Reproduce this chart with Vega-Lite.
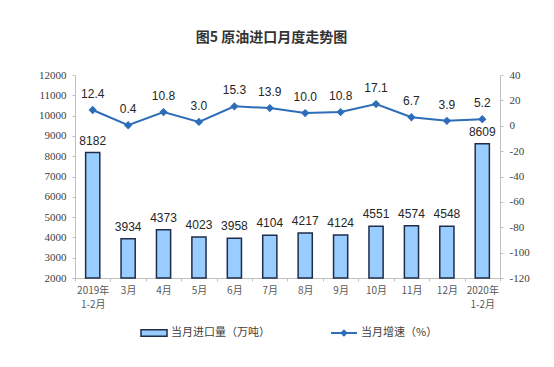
{
  "$schema": "https://vega.github.io/schema/vega-lite/v6.json",
  "width": 425,
  "height": 203,
  "autosize": {"type": "none"},
  "padding": {"left": 75, "top": 75, "right": 54, "bottom": 89},
  "background": "white",
  "title": {
    "text": "图5  原油进口月度走势图",
    "font": "Noto Sans CJK SC",
    "fontSize": 14,
    "fontWeight": "bold",
    "color": "#333333",
    "anchor": "middle",
    "dx": -16,
    "offset": 24
  },
  "data": {
    "values": [
      {"m": "2019年\n1-2月", "vol": 8182, "pct": 12.4},
      {"m": "3月", "vol": 3934, "pct": 0.4},
      {"m": "4月", "vol": 4373, "pct": 10.8},
      {"m": "5月", "vol": 4023, "pct": 3.0},
      {"m": "6月", "vol": 3958, "pct": 15.3},
      {"m": "7月", "vol": 4104, "pct": 13.9},
      {"m": "8月", "vol": 4217, "pct": 10.0},
      {"m": "9月", "vol": 4124, "pct": 10.8},
      {"m": "10月", "vol": 4551, "pct": 17.1},
      {"m": "11月", "vol": 4574, "pct": 6.7},
      {"m": "12月", "vol": 4548, "pct": 3.9},
      {"m": "2020年\n1-2月", "vol": 8609, "pct": 5.2}
    ]
  },
  "encoding": {
    "x": {
      "field": "m",
      "type": "nominal",
      "sort": null,
      "title": null,
      "scale": {"type": "band", "paddingInner": 0, "paddingOuter": 0},
      "axis": {
        "labelAngle": 0,
        "labelExpr": "split(datum.label, '\\n')",
        "labelFont": "Noto Sans CJK SC",
        "labelFontSize": 10,
        "labelColor": "#595959",
        "labelLineHeight": 14,
        "labelPadding": 4,
        "domainColor": "#BFBFBF",
        "tickColor": "#BFBFBF",
        "tickBand": "extent",
        "tickSize": 3,
        "grid": false
      }
    }
  },
  "layer": [
    {
      "mark": {"type": "bar", "width": {"band": 0.4}, "stroke": "#1F2D4A", "strokeWidth": 1.5},
      "encoding": {
        "y": {
          "field": "vol",
          "type": "quantitative",
          "title": null,
          "scale": {"domain": [2000, 12000], "zero": false, "nice": false},
          "axis": {
            "values": [2000, 3000, 4000, 5000, 6000, 7000, 8000, 9000, 10000, 11000, 12000],
            "labelExpr": "toString(datum.value)",
            "labelFont": "Liberation Serif",
            "labelFontSize": 11,
            "labelColor": "#404040",
            "domainColor": "#BFBFBF",
            "tickColor": "#BFBFBF",
            "tickSize": 3,
            "labelPadding": 6,
            "grid": false
          }
        },
        "y2": {"datum": 2000},
        "fill": {
          "datum": "当月进口量（万吨）",
          "type": "nominal",
          "scale": {"range": ["#99CCFF"]},
          "legend": {
            "orient": "none",
            "legendX": 65,
            "legendY": 244,
            "title": null,
            "symbolType": "M-1,-0.25H1V0.25H-1Z",
            "symbolSize": 676,
            "symbolStrokeColor": "#1F2D4A",
            "symbolStrokeWidth": 1.5,
            "labelFont": "Noto Sans CJK SC",
            "labelFontSize": 11,
            "labelColor": "#404040",
            "labelOffset": 3
          }
        }
      }
    },
    {
      "mark": {"type": "text", "baseline": "bottom", "dy": -5, "font": "Liberation Sans", "fontSize": 12, "color": "#262626"},
      "encoding": {
        "y": {"field": "vol", "type": "quantitative", "scale": {"domain": [2000, 12000], "zero": false, "nice": false}, "axis": null},
        "text": {"field": "vol", "type": "quantitative", "format": "d"}
      }
    },
    {
      "mark": {"type": "line", "strokeWidth": 2, "color": "#2E6DB8", "point": {"shape": "diamond", "size": 30, "filled": true, "color": "#2E6DB8"}},
      "encoding": {
        "y": {
          "field": "pct",
          "type": "quantitative",
          "title": null,
          "scale": {"domain": [-120, 40], "nice": false},
          "axis": {
            "orient": "right",
            "values": [-120, -100, -80, -60, -40, -20, 0, 20, 40],
            "labelExpr": "toString(datum.value)",
            "labelFont": "Liberation Serif",
            "labelFontSize": 11,
            "labelColor": "#404040",
            "domainColor": "#BFBFBF",
            "tickColor": "#BFBFBF",
            "tickSize": 3,
            "labelPadding": 6,
            "grid": false
          }
        },
        "stroke": {
          "datum": "当月增速（%）",
          "type": "nominal",
          "scale": {"range": ["#2E6DB8"]},
          "legend": {
            "orient": "none",
            "legendX": 255,
            "legendY": 244,
            "title": null,
            "symbolType": "M-1,0H1M0,-0.18L0.18,0L0,0.18L-0.18,0Z",
            "symbolSize": 676,
            "symbolFillColor": "#2E6DB8",
            "symbolStrokeWidth": 2,
            "labelFont": "Noto Sans CJK SC",
            "labelFontSize": 11,
            "labelColor": "#404040",
            "labelOffset": 3
          }
        }
      }
    },
    {
      "mark": {"type": "text", "baseline": "bottom", "dy": -9, "font": "Liberation Sans", "fontSize": 12, "color": "#262626"},
      "encoding": {
        "y": {"field": "pct", "type": "quantitative", "scale": {"domain": [-120, 40], "nice": false}, "axis": null},
        "text": {"field": "pct", "type": "quantitative", "format": ".1f"}
      }
    }
  ],
  "resolve": {"scale": {"y": "independent", "fill": "independent", "stroke": "independent"}},
  "config": {"view": {"stroke": null}}
}
